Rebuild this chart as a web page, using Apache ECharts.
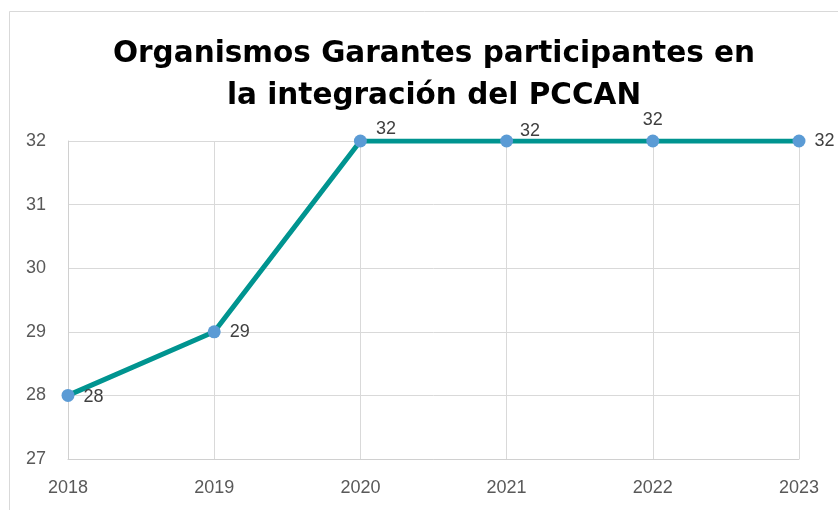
<!DOCTYPE html>
<html>
<head>
<meta charset="utf-8">
<script src="https://cdn.jsdelivr.net/npm/echarts@6/dist/echarts.min.js"></script>
<style>
  html, body { margin: 0; padding: 0; background: #fff; }
  #chart { width: 838px; height: 510px; }
</style>
</head>
<body>
<div id="chart"></div>
<script>
// Data
var years = ['2018', '2019', '2020', '2021', '2022', '2023'];
var organismos = [28, 29, 32, 32, 32, 32];

// label placement per point (as in the original)
var labelPlace = [
    { position: 'right', offset: [4, 2] },
    { position: 'right', offset: [4, 0] },
    { position: 'right', offset: [4, -12] },
    { position: 'right', offset: [2, -10] },
    { position: 'top', offset: [0, 0] },
    { position: 'right', offset: [4, 0] }
];

var chart = echarts.init(document.getElementById('chart'));

var option = {
    animation: false,
    backgroundColor: '#fff',
    graphic: [{
        type: 'rect',
        shape: { x: 9.5, y: 11.5, width: 900, height: 600 },
        style: { fill: 'none', stroke: '#d9d9d9', lineWidth: 1 },
        silent: true
    }],
    title: {
        text: 'Organismos Garantes participantes en\nla integración del PCCAN',
        left: 429,
        textAlign: 'center',
        top: 28,
        textStyle: {
            fontFamily: 'DejaVu Sans',
            fontWeight: 'bold',
            fontSize: 29.5,
            lineHeight: 42,
            color: '#000'
        }
    },
    grid: {
        left: 68,
        right: 39,
        top: 141,
        bottom: 51,
        containLabel: false
    },
    xAxis: {
        type: 'category',
        data: years,
        boundaryGap: false,
        axisLine: { lineStyle: { color: '#d0d0d0', width: 1 } },
        axisTick: { show: false },
        axisLabel: {
            color: '#595959',
            fontSize: 18,
            fontFamily: 'Liberation Sans',
            margin: 20
        },
        splitLine: { show: true, lineStyle: { color: '#d9d9d9', width: 1 } }
    },
    yAxis: {
        type: 'value',
        min: 27,
        max: 32,
        interval: 1,
        axisLine: { show: true, lineStyle: { color: '#d0d0d0', width: 1 } },
        axisTick: { show: false },
        axisLabel: {
            color: '#595959',
            fontSize: 18,
            fontFamily: 'Liberation Sans',
            margin: 22
        },
        splitLine: { lineStyle: { color: '#d9d9d9', width: 1 } }
    },
    series: [{
        name: 'Organismos Garantes',
        type: 'line',
        data: organismos.map(function (v, i) {
            return {
                value: v,
                label: labelPlace[i]
            };
        }),
        symbol: 'circle',
        symbolSize: 13,
        lineStyle: { color: '#009490', width: 5 },
        itemStyle: { color: '#5b9bd5' },
        label: {
            show: true,
            color: '#404040',
            fontSize: 18,
            fontFamily: 'Liberation Sans'
        },
        z: 3
    }]
};

chart.setOption(option);

window.onresize = function () {
    chart.resize();
};
</script>
</body>
</html>
